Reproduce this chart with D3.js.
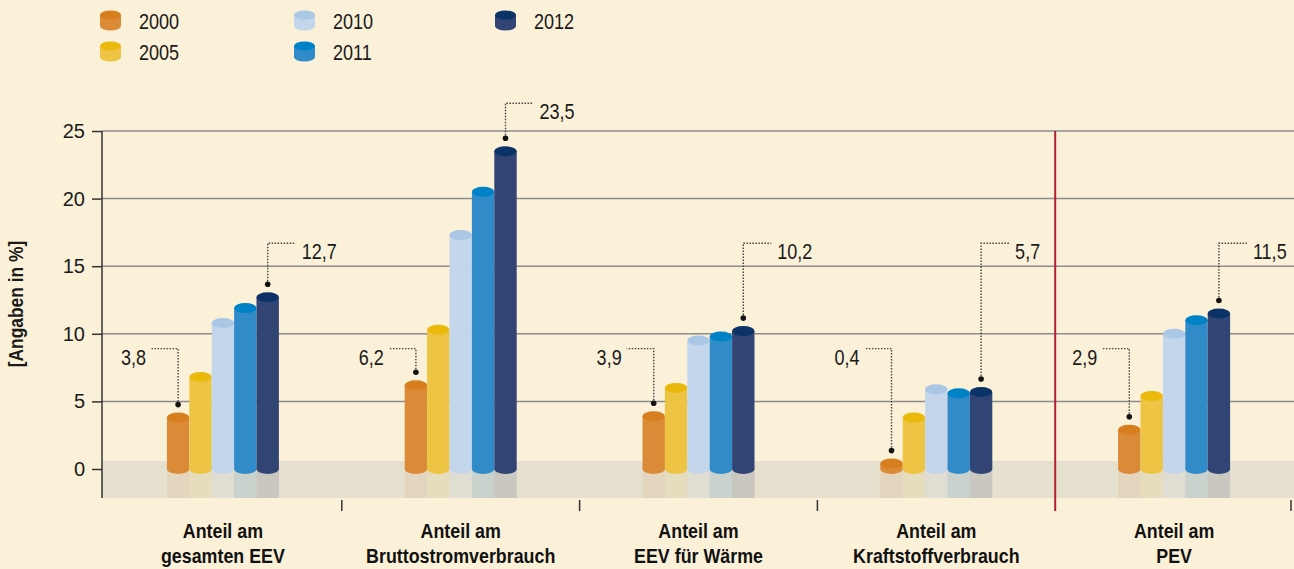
<!DOCTYPE html>
<html>
<head>
<meta charset="utf-8">
<script src="https://cdn.jsdelivr.net/npm/d3@7"></script>
<style>
  html, body { margin: 0; padding: 0; background: #fbf1d9; }
  svg { display: block; }
  text { font-family: "Liberation Sans", Arial, sans-serif; }
</style>
</head>
<body>
<svg width="1294" height="569"></svg>
<script>
// Chart data
const categories = ['Anteil am\ngesamten EEV', 'Anteil am\nBruttostromverbrauch', 'Anteil am\nEEV für Wärme', 'Anteil am\nKraftstoffverbrauch', 'Anteil am\nPEV']
const years = ['2000', '2005', '2010', '2011', '2012']
const values2000 = [3.8, 6.2, 3.9, 0.4, 2.9]
const values2005 = [6.8, 10.3, 6.0, 3.8, 5.4]
const values2010 = [10.8, 17.3, 9.5, 5.9, 10.0]
const values2011 = [11.9, 20.5, 9.8, 5.6, 11.0]
const values2012 = [12.7, 23.5, 10.2, 5.7, 11.5]
const yTicks = [0, 5, 10, 15, 20, 25]
const yTitle = '[Angaben in %]'

const bodyColors = ['#db8a38', '#edc444', '#c3d6ec', '#328bc9', '#314474']
const topColors = ['#d77e1e', '#ebb80c', '#aac7e6', '#0082c6', '#0c3367']

const series = [values2000, values2005, values2010, values2011, values2012]

// Text squeezed horizontally to mimic the condensed face of the original
function narrowText(parent, x, y, str, opts) {
  const sx = opts.scale || 0.82
  return parent.append('text')
    .attr('transform', `translate(${x}, ${y}) scale(${sx}, 1)`)
    .attr('text-anchor', opts.anchor || 'start')
    .attr('font-size', opts.size || 22)
    .attr('font-weight', opts.weight || 'normal')
    .attr('fill', opts.fill || '#1a1a1a')
    .text(str)
}

function drawChart() {
  const svg = d3.select('svg')
  const width = 1294

  const yScale = d3.scaleLinear().domain([0, 25]).range([469, 131])
  const xScale = d3.scaleBand().domain(categories).range([104, 1293])
  const xInner = d3.scaleBand().domain(years).range([-56, 56])
  const bw = xInner.bandwidth()
  const ry = 5
  const fmt = v => v.toFixed(1).replace('.', ',')

  // Background
  svg.append('rect').attr('width', width).attr('height', 569).attr('fill', '#fbf1d9')

  // Gridlines
  svg.append('g')
    .selectAll('line')
    .data(yTicks.filter(t => t > 0))
    .enter()
    .append('line')
    .attr('x1', 102).attr('x2', width)
    .attr('y1', d => yScale(d)).attr('y2', d => yScale(d))
    .attr('stroke', '#8c8c8c')
    .attr('stroke-width', 1.5)

  // Floor band
  svg.append('rect')
    .attr('x', 102).attr('y', yScale(0) - 8)
    .attr('width', width - 102).attr('height', 37)
    .attr('fill', '#e6e0cf')

  // Bar groups
  const groups = svg.selectAll('.grp')
    .data(categories)
    .enter()
    .append('g')
    .attr('class', 'grp')
    .attr('transform', c => `translate(${xScale(c) + xScale.bandwidth() / 2}, 0)`)

  years.forEach((year, yi) => {
    const xs = xInner(year)
    // Reflection
    groups.append('rect')
      .attr('x', xs).attr('y', yScale(0))
      .attr('width', bw).attr('height', 29)
      .attr('fill', bodyColors[yi])
      .attr('opacity', yi < 2 ? 0.11 : 0.16)
    // Bottom ellipse
    groups.append('ellipse')
      .attr('cx', xs + bw / 2).attr('cy', yScale(0))
      .attr('rx', bw / 2).attr('ry', ry)
      .attr('fill', bodyColors[yi])
    // Body
    groups.append('rect')
      .attr('x', xs)
      .attr('y', (c, ci) => yScale(series[yi][ci]))
      .attr('width', bw)
      .attr('height', (c, ci) => yScale(0) - yScale(series[yi][ci]))
      .attr('fill', bodyColors[yi])
    // Top ellipse
    groups.append('ellipse')
      .attr('cx', xs + bw / 2)
      .attr('cy', (c, ci) => yScale(series[yi][ci]))
      .attr('rx', bw / 2).attr('ry', ry)
      .attr('fill', topColors[yi])
  })

  // Callouts: first year to the left, last year to the right
  const firstX = xInner(years[0]) + bw / 2
  const lastX = xInner(years[years.length - 1]) + bw / 2
  const leftLevel = yScale(8.9)

  groups.each(function (c, ci) {
    const g = d3.select(this)
    const v0 = values2000[ci]
    const v1 = values2012[ci]
    const d0 = yScale(v0) - 13
    const d1 = yScale(v1) - 13
    const rightLevel = v1 > 15 ? yScale(v1) - 48 : yScale(16.7)

    g.append('path')
      .attr('d', `M${firstX},${d0}V${leftLevel}H${firstX - 27}`)
      .attr('fill', 'none').attr('stroke', '#444')
      .attr('stroke-width', 1.4).attr('stroke-dasharray', '1.5,1.5')
    g.append('circle').attr('cx', firstX).attr('cy', d0).attr('r', 2.8).attr('fill', '#111')
    narrowText(g, firstX - 32, leftLevel + 16, fmt(v0), { anchor: 'end' })

    g.append('path')
      .attr('d', `M${lastX},${d1}V${rightLevel}H${lastX + 28}`)
      .attr('fill', 'none').attr('stroke', '#444')
      .attr('stroke-width', 1.4).attr('stroke-dasharray', '1.5,1.5')
    g.append('circle').attr('cx', lastX).attr('cy', d1).attr('r', 2.8).attr('fill', '#111')
    narrowText(g, lastX + 34, rightLevel + 16, fmt(v1), {})
  })

  // Y axis
  const yAxis = svg.append('g')
    .attr('transform', 'translate(102, 0)')
    .call(d3.axisLeft(yScale).tickValues(yTicks).tickSize(10).tickPadding(7))
  yAxis.select('.domain').remove()
  yAxis.selectAll('.tick line').attr('stroke', '#333').attr('stroke-width', 1.5)
  yAxis.selectAll('.tick text')
    .attr('font-family', '"Liberation Sans", Arial, sans-serif')
    .attr('font-size', 20).attr('fill', '#1a1a1a')
  svg.append('line')
    .attr('x1', 102).attr('x2', 102)
    .attr('y1', yScale(25)).attr('y2', 498)
    .attr('stroke', '#333').attr('stroke-width', 1.5)

  svg.append('text')
    .attr('transform', `translate(23, ${yScale(12.5) + 4}) rotate(-90) scale(0.87, 1)`)
    .attr('text-anchor', 'middle')
    .attr('font-size', 20).attr('font-weight', 'bold').attr('fill', '#1a1a1a')
    .text(yTitle)

  // Category separators
  const bounds = categories.slice(1).map(c => xScale(c)).concat([xScale.range()[1] - 2])
  bounds.forEach((bx, i) => {
    if (i === 3) {
      svg.append('line')
        .attr('x1', bx).attr('x2', bx)
        .attr('y1', yScale(25)).attr('y2', 511)
        .attr('stroke', '#b3202f').attr('stroke-width', 2)
    } else {
      svg.append('line')
        .attr('x1', bx).attr('x2', bx)
        .attr('y1', 500).attr('y2', 511)
        .attr('stroke', '#333').attr('stroke-width', 1.5)
    }
  })

  // Category labels
  const labels = svg.append('g')
  categories.forEach(c => {
    const cx = xScale(c) + xScale.bandwidth() / 2
    c.split('\n').forEach((line, li) => {
      narrowText(labels, cx, 538 + li * 25, line,
        { anchor: 'middle', size: 21, weight: 'bold', scale: 0.85, fill: '#111' })
    })
  })

  // Legend
  const legendCols = [100, 100, 294, 294, 495]
  const legendRows = [0, 1, 0, 1, 0]
  const legend = svg.append('g')
    .selectAll('g')
    .data(years)
    .enter()
    .append('g')
    .attr('transform', (d, i) => `translate(${legendCols[i]}, ${15 + legendRows[i] * 31})`)
  legend.append('ellipse')
    .attr('cx', 10.5).attr('cy', 11).attr('rx', 10.5).attr('ry', 4.5)
    .attr('fill', (d, i) => bodyColors[i])
  legend.append('rect')
    .attr('x', 0).attr('y', 0).attr('width', 21).attr('height', 11)
    .attr('fill', (d, i) => bodyColors[i])
  legend.append('ellipse')
    .attr('cx', 10.5).attr('cy', 0).attr('rx', 10.5).attr('ry', 4.5)
    .attr('fill', (d, i) => topColors[i])
  legend.each(function (d) {
    narrowText(d3.select(this), 39, 14, d, {})
  })
}

drawChart()
</script>
</body>
</html>
